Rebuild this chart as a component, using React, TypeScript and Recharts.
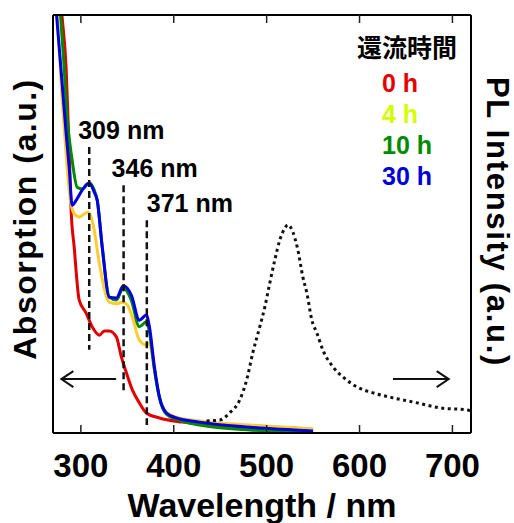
import { ComposedChart, Line, XAxis, YAxis, ReferenceLine, Label } from 'recharts';

const FONT = '"Liberation Sans", Arial, sans-serif';
const CJK = '"Noto Sans CJK JP", "Noto Sans CJK SC", sans-serif';

// absorption spectra, one pair of arrays per reflux time
const wl0h = [277.6, 279.8, 284.1, 287.4, 289.5, 292.8, 298.2, 305.7, 312.2, 319.8, 325.2, 330.6, 338.2, 343.6, 349, 355.4, 363, 370.5, 384.6, 409.5, 481.8, 528, 550];
const abs0h = [105, 99.5, 87.5, 67.7, 53.3, 44.5, 31.8, 28.7, 25.4, 23.4, 24.4, 24.4, 23.0, 18.2, 14.4, 10.3, 7.2, 4.8, 3.6, 2.6, 1.4, 1.2, 0.7];

const wl4h = [273.3, 278.7, 283, 287.4, 291.7, 298.2, 303.6, 307.9, 313.3, 319.8, 330.6, 338.2, 344.6, 350, 355.4, 363, 370.5, 373.8, 379.2, 384.6, 392.1, 402.9, 427.8, 481.8, 550];
const abs4h = [105, 83.7, 70.1, 58.1, 52.9, 51.7, 52.4, 52.9, 49.8, 40.7, 31.3, 30.9, 31.3, 30.6, 27.7, 22.2, 21.0, 21.5, 15.1, 8.6, 5.0, 3.8, 2.9, 1.9, 1.0];

const wl10h = [276.5, 282, 285.2, 290.6, 296, 301.4, 309, 314.4, 317.6, 323, 330.6, 338.2, 345.7, 354.3, 363, 370.5, 373.8, 379.2, 384.6, 392.1, 402.9, 427.8, 481.8, 550];
const abs10h = [105, 87.5, 75.6, 65.3, 58.8, 58.4, 59.8, 58.1, 55.7, 44.5, 32.5, 31.8, 34.7, 31.8, 25.4, 26.6, 24.2, 15.1, 8.4, 4.5, 3.3, 1.9, 0.7, 0.2];

const wl30h = [272, 279.8, 284.1, 287.4, 290.6, 295, 301.4, 309, 314.4, 317.6, 323, 330.6, 338.2, 345.7, 354.3, 363, 370.5, 373.8, 379.2, 384.6, 392.1, 402.9, 427.8, 481.8, 550];
const abs30h = [105, 83.7, 71.8, 63.6, 54.5, 55.7, 58.1, 59.8, 57.6, 55.7, 44.5, 32.5, 32.3, 35.2, 33.0, 27.0, 28.2, 25.4, 15.8, 8.6, 4.8, 3.6, 2.6, 1.4, 0.5];

// photoluminescence spectrum
const plWl = [435.3, 449.4, 460.2, 471, 478.5, 485, 492.6, 498, 503.4, 508.8, 514.2, 519.6, 522.8, 528.2, 533.6, 539, 543.3, 548.7, 554.1, 560.6, 571.4, 582.2, 597.3, 614.6, 636.2, 662.1, 686.9, 716.1, 720];
const plInt = [2.9, 3.1, 4.8, 7.9, 12.7, 19.1, 25.4, 30.1, 35.9, 41.4, 46.2, 49.0, 49.8, 48.1, 43.8, 37.3, 33.5, 27.0, 23.9, 19.8, 15.8, 13.4, 11.0, 9.6, 8.4, 7.2, 6.0, 5.5, 5.3];

const xTicks = [300, 400, 500, 600, 700];
const seriesNames = ['0 h', '4 h', '10 h', '30 h'];
const lineColors = ['#e00000', '#ffcc33', '#008a00', '#0000e0'];
const legendColors = ['#e60000', '#d4ff00', '#008a00', '#0000d8'];

const peakNm = [309, 346, 371];
const peakTop = [68.4, 59.3, 50.9];
const peakBottom = [19.9, 9.6, 1.9];
const peakText = ['309 nm', '346 nm', '371 nm'];
const peakDx = [-11, -12, 0];

const zip = (xs: number[], ys: number[]) => xs.map((wl, i) => ({ wl, v: ys[i] }));
const absData = [zip(wl0h, abs0h), zip(wl4h, abs4h), zip(wl10h, abs10h), zip(wl30h, abs30h)];
const plData = zip(plWl, plInt);

const boldText = { fontFamily: FONT, fontWeight: 'bold' as const, fill: '#000' };
const TICK_LEN = 8;
const BOTTOM_MARGIN = 21;

// bottom tick: inward tick mark + label
function BottomTick({ x, y, payload }: any) {
  const axisY = y - BOTTOM_MARGIN;
  return (
    <g>
      <line x1={x} x2={x} y1={axisY} y2={axisY - TICK_LEN} stroke="#222" strokeWidth={1.5} />
      <text x={x} y={axisY + 44} textAnchor="middle" fontSize={33} {...boldText}>
        {payload.value}
      </text>
    </g>
  );
}

// top tick: inward tick mark only
function TopTick({ x, y }: any) {
  return <line x1={x} x2={x} y1={y} y2={y + TICK_LEN} stroke="#222" strokeWidth={1.5} />;
}

function XTitle({ viewBox }: any) {
  return (
    <text x={viewBox.x + viewBox.width / 2} y={517} textAnchor="middle" fontSize={34} {...boldText}>
      Wavelength / nm
    </text>
  );
}

function LeftTitle({ viewBox }: any) {
  const cy = viewBox.y + viewBox.height / 2 - 5;
  return (
    <text x={36} y={cy} transform={`rotate(-90, 36, ${cy})`} textAnchor="middle" fontSize={32} letterSpacing={1.5} {...boldText}>
      Absorption (a.u.)
    </text>
  );
}

function RightTitle({ viewBox }: any) {
  const cy = viewBox.y + viewBox.height / 2 - 2;
  return (
    <text x={487} y={cy} transform={`rotate(90, 487, ${cy})`} textAnchor="middle" fontSize={31} letterSpacing={1.7} {...boldText}>
      PL Intensity (a.u.)
    </text>
  );
}

function Arrow(p: any) {
  const { x1, y1, x2, y2 } = p;
  const dir = Math.sign(x2 - x1);
  return (
    <g>
      <line x1={x1} y1={y1} x2={x2} y2={y2} stroke="#111" strokeWidth={2} />
      <path d={`M${x2 - dir * 12},${y2 - 8} L${x2},${y2} L${x2 - dir * 12},${y2 + 8}`} fill="none" stroke="#111" strokeWidth={2} />
    </g>
  );
}

export default function App() {
  return (
    <div style={{ position: 'absolute', left: 0, top: 0, width: 514, height: 523, background: '#fff' }}>
      <ComposedChart width={514} height={523} margin={{ top: 14, right: 42, bottom: 30, left: 52 }}>
        <XAxis
          xAxisId="b"
          type="number"
          dataKey="wl"
          domain={[270, 720]}
          ticks={xTicks}
          allowDataOverflow
          height={60}
          tickSize={0}
          tickMargin={BOTTOM_MARGIN}
          tick={<BottomTick />}
          tickLine={false}
          axisLine={{ stroke: '#000', strokeWidth: 2 }}
          label={<Label content={XTitle} />}
        />
        <XAxis
          xAxisId="t"
          orientation="top"
          type="number"
          dataKey="wl"
          domain={[270, 720]}
          ticks={xTicks}
          allowDataOverflow
          height={1}
          tickSize={0}
          tickMargin={0}
          tick={<TopTick />}
          tickLine={false}
          axisLine={{ stroke: '#000', strokeWidth: 2 }}
        />
        <YAxis
          yAxisId="abs"
          type="number"
          domain={[0, 100]}
          allowDataOverflow
          width={1}
          tick={false}
          tickLine={false}
          axisLine={{ stroke: '#000', strokeWidth: 2 }}
          label={<Label content={LeftTitle} />}
        />
        <YAxis
          yAxisId="pl"
          orientation="right"
          type="number"
          domain={[0, 100]}
          allowDataOverflow
          width={1}
          tick={false}
          tickLine={false}
          axisLine={{ stroke: '#000', strokeWidth: 2 }}
          label={<Label content={RightTitle} />}
        />

        {absData.map((d, i) => (
          <Line
            key={seriesNames[i]}
            xAxisId="b"
            yAxisId="abs"
            data={d}
            dataKey="v"
            name={seriesNames[i]}
            type="monotone"
            stroke={lineColors[i]}
            strokeWidth={3}
            dot={false}
            isAnimationActive={false}
          />
        ))}
        <Line
          xAxisId="b"
          yAxisId="pl"
          data={plData}
          dataKey="v"
          name="PL"
          type="monotone"
          stroke="#111"
          strokeWidth={3}
          strokeDasharray="3 3.5"
          dot={false}
          isAnimationActive={false}
        />

        {peakNm.map((nm, i) => (
          <ReferenceLine
            key={nm}
            xAxisId="b"
            yAxisId="abs"
            segment={[{ x: nm, y: peakTop[i] }, { x: nm, y: peakBottom[i] }]}
            stroke="#111"
            strokeWidth={2.5}
            strokeDasharray="7 4"
            label={
              <Label
                content={({ viewBox }: any) => (
                  <text x={viewBox.x + peakDx[i]} y={viewBox.y - 8} fontSize={25} {...boldText}>
                    {peakText[i]}
                  </text>
                )}
              />
            }
          />
        ))}

        <ReferenceLine xAxisId="b" yAxisId="abs" segment={[{ x: 338, y: 12.9 }, { x: 279, y: 12.9 }]} shape={Arrow} />
        <ReferenceLine xAxisId="b" yAxisId="pl" segment={[{ x: 636, y: 12.9 }, { x: 696, y: 12.9 }]} shape={Arrow} />
      </ComposedChart>

      <svg width={514} height={200} style={{ position: 'absolute', left: 0, top: 0, pointerEvents: 'none' }}>
        <text x={357} y={57} fontSize={25} fontFamily={CJK} fontWeight="bold" fill="#000">還流時間</text>
        {seriesNames.map((n, i) => (
          <text key={n} x={382} y={92 + i * 31} fontSize={25} fontFamily={FONT} fontWeight="bold" fill={legendColors[i]}>
            {n}
          </text>
        ))}
      </svg>
    </div>
  );
}
